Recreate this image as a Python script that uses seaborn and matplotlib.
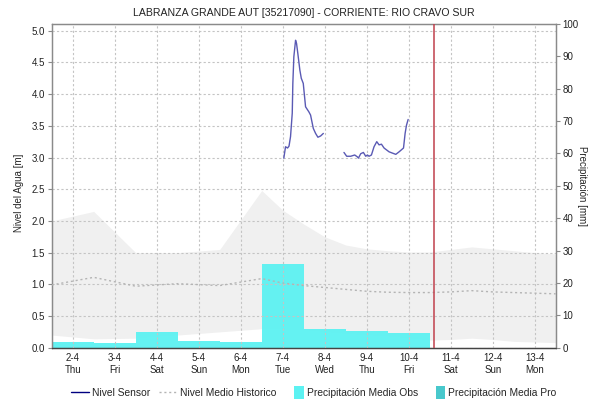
import matplotlib
matplotlib.use("Agg")
import matplotlib.pyplot as plt
import seaborn as sns
import pandas as pd
import numpy as np
from matplotlib.lines import Line2D
from matplotlib.patches import Patch, Rectangle
from matplotlib.legend_handler import HandlerPatch

# ---- data (day of April as x) ----
day_ticks = [2, 3, 4, 5, 6, 7, 8, 9, 10, 11, 12, 13]
day_labels = ["2-4\nThu", "3-4\nFri", "4-4\nSat", "5-4\nSun", "6-4\nMon", "7-4\nTue",
              "8-4\nWed", "9-4\nThu", "10-4\nFri", "11-4\nSat", "12-4\nSun", "13-4\nMon"]

# historical range band (m)
band_x = [1.5, 2.5, 3.5, 4.5, 5.5, 6.5, 7.0, 7.5, 8.0, 8.5, 9.0, 9.5, 10.0, 10.5,
          11.0, 11.5, 12.0, 12.5, 13.0, 13.5]
band_hi = [2.00, 2.15, 1.50, 1.50, 1.55, 2.48, 2.17, 1.95, 1.75, 1.62, 1.56, 1.53,
           1.51, 1.51, 1.55, 1.59, 1.56, 1.53, 1.50, 1.48]
band_lo = [0.20, 0.14, 0.15, 0.20, 0.25, 0.30, 0.29, 0.28, 0.25, 0.22, 0.20, 0.18,
           0.15, 0.12, 0.13, 0.15, 0.13, 0.10, 0.09, 0.08]

# historical mean level (m)
hist_mean = [0.99, 1.11, 0.97, 1.01, 0.98, 1.09, 1.02, 0.98, 0.95, 0.92, 0.89, 0.875,
             0.87, 0.87, 0.88, 0.90, 0.88, 0.87, 0.86, 0.85]

# sensor level (m), two recorded stretches
sensor1_x = [7.026, 7.067, 7.115, 7.150, 7.186, 7.227, 7.241, 7.265, 7.306, 7.329,
             7.360, 7.408, 7.442, 7.489, 7.544, 7.623, 7.663, 7.728, 7.783, 7.838,
             7.902, 7.967]
sensor1_y = [2.99, 3.17, 3.15, 3.18, 3.33, 3.70, 4.17, 4.59, 4.85, 4.80,
             4.64, 4.38, 4.25, 4.17, 3.80, 3.72, 3.67, 3.46, 3.38, 3.32,
             3.34, 3.38]
sensor2_x = [8.458, 8.523, 8.618, 8.714, 8.778, 8.802, 8.857, 8.921, 8.976, 9.017,
             9.055, 9.112, 9.174, 9.239, 9.294, 9.351, 9.413, 9.532, 9.692, 9.771,
             9.876, 9.914, 9.947, 9.986]
sensor2_y = [3.08, 3.02, 3.02, 3.04, 3.01, 2.99, 3.06, 3.08, 3.02, 3.04,
             3.02, 3.04, 3.17, 3.25, 3.20, 3.21, 3.15, 3.09, 3.05, 3.09,
             3.15, 3.38, 3.51, 3.60]

# daily precipitation (mm)
precip_days = [2, 3, 4, 5, 6, 7, 8, 9, 10]
precip_obs = [1.8, 1.4, 4.9, 2.1, 1.8, 25.9, 5.7, 5.2, 4.5]
precip_pro_days = []
precip_pro = []

now_day = 10.6

# ---- style ----
sns.set_style("white")
plt.rcParams["font.family"] = ["Liberation Sans", "DejaVu Sans"]
plt.rcParams["font.size"] = 7

C_SENSOR = "#5A5AB4"
C_HIST = "#B4B4B4"
C_OBS = "#5CF2F2"
C_PRO = "#48C8CC"
C_BAND = "#F0F0F0"
C_GRID = "#C4C4C4"
C_SPINE = "#8A8A8A"

fig = plt.figure(figsize=(5.89, 4.03), dpi=100)
ax = fig.add_axes([0.0878, 0.1372, 0.8557, 0.8032])
ax2 = ax.twinx()

# left axis holds level, right axis holds precipitation; draw precipitation behind
ax.set_zorder(ax2.get_zorder() + 1)
ax.patch.set_visible(False)

ax2.fill_between(band_x, np.array(band_lo) * 100 / 5.106, np.array(band_hi) * 100 / 5.106,
                 color=C_BAND, lw=0, zorder=1)
ax2.bar(precip_days, precip_obs, width=1.0, color=C_OBS, lw=0, zorder=2, alpha=0.95)
if precip_pro:
    ax2.bar(precip_pro_days, precip_pro, width=1.0, color=C_PRO, lw=0, zorder=3)

# level axis
for gy in np.arange(0, 5.01, 0.5):
    ax.axhline(gy, color=C_GRID, lw=0.8, ls=(0, (2, 2)), zorder=0.5)
for gx in day_ticks:
    ax.axvline(gx, color=C_GRID, lw=0.8, ls=(0, (2, 2)), zorder=0.5)

hist_df = pd.DataFrame({"dia": band_x, "nivel": hist_mean})
sns.lineplot(data=hist_df, x="dia", y="nivel", ax=ax, color=C_HIST, lw=1.0,
             ls=(0, (1.5, 2)), zorder=3)
s1 = pd.DataFrame({"dia": sensor1_x, "nivel": sensor1_y})
s2 = pd.DataFrame({"dia": sensor2_x, "nivel": sensor2_y})
sns.lineplot(data=s1, x="dia", y="nivel", ax=ax, color=C_SENSOR, lw=1.0, zorder=4)
sns.lineplot(data=s2, x="dia", y="nivel", ax=ax, color=C_SENSOR, lw=1.0, zorder=4)

ax.axvline(now_day, color="#C0404C", lw=1.1, zorder=5)

ax.set_xlim(1.5, 13.5)
ax.set_ylim(0, 5.106)
ax2.set_ylim(0, 100)

ax.set_xticks(day_ticks)
ax.set_xticklabels(day_labels, fontsize=7, linespacing=1.25)
ax.set_yticks(np.arange(0, 5.01, 0.5))
ax.set_yticklabels([f"{v:.1f}" for v in np.arange(0, 5.01, 0.5)], fontsize=7)
ax2.set_yticks(np.arange(0, 101, 10))
ax2.set_yticklabels([str(v) for v in range(0, 101, 10)], fontsize=7)

ax.tick_params(axis="x", length=0, pad=4, colors="#222222")
ax.tick_params(axis="y", length=3, width=0.8, color=C_SPINE, pad=2, labelcolor="#222222")
ax2.tick_params(axis="y", length=3, width=0.8, color=C_SPINE, pad=2, labelcolor="#222222")

ax.set_xlabel("")
ax.set_ylabel("Nivel del Agua [m]", fontsize=7, va="center", ha="center")
ax.yaxis.set_label_coords(-0.064, 0.48)
ax2.set_ylabel("Precipitación [mm]", fontsize=7, rotation=270, va="center", ha="center")
ax2.yaxis.set_label_coords(1.052, 0.5)

for a in (ax, ax2):
    for side in ("top", "left", "right"):
        a.spines[side].set_color(C_SPINE)
        a.spines[side].set_linewidth(0.9)
    a.spines["bottom"].set_color("#444444")
    a.spines["bottom"].set_linestyle((0, (1, 1)))
    a.spines["bottom"].set_linewidth(0.9)

ax.set_title("LABRANZA GRANDE AUT [35217090] - CORRIENTE: RIO CRAVO SUR",
             fontsize=7.6, pad=6, color="#222222")


class NarrowPatch(HandlerPatch):
    def create_artists(self, legend, orig_handle, xdescent, ydescent, width, height,
                       fontsize, trans):
        w = 6.5
        r = Rectangle((-xdescent + width - w, -ydescent - 1.5), w, height + 3,
                      facecolor=orig_handle.get_facecolor(), edgecolor="none",
                      transform=trans)
        return [r]


handles = [
    Line2D([], [], color="#000080", lw=1.0),
    Line2D([], [], color=C_HIST, lw=1.0, ls=(0, (1.5, 2))),
    Patch(facecolor=C_OBS, edgecolor="none"),
    Patch(facecolor=C_PRO, edgecolor="none"),
]
labels = ["Nivel Sensor", "Nivel Medio Historico", "Precipitación Media Obs",
          "Precipitación Media Pro"]
fig.legend(handles, labels, loc="center", bbox_to_anchor=(0.532, 0.025), ncol=4,
           frameon=False, fontsize=7.4, handlelength=1.8, handleheight=1.0,
           handletextpad=0.3, columnspacing=0.8,
           handler_map={Patch: NarrowPatch()})

fig.savefig("out.png", dpi=100)
